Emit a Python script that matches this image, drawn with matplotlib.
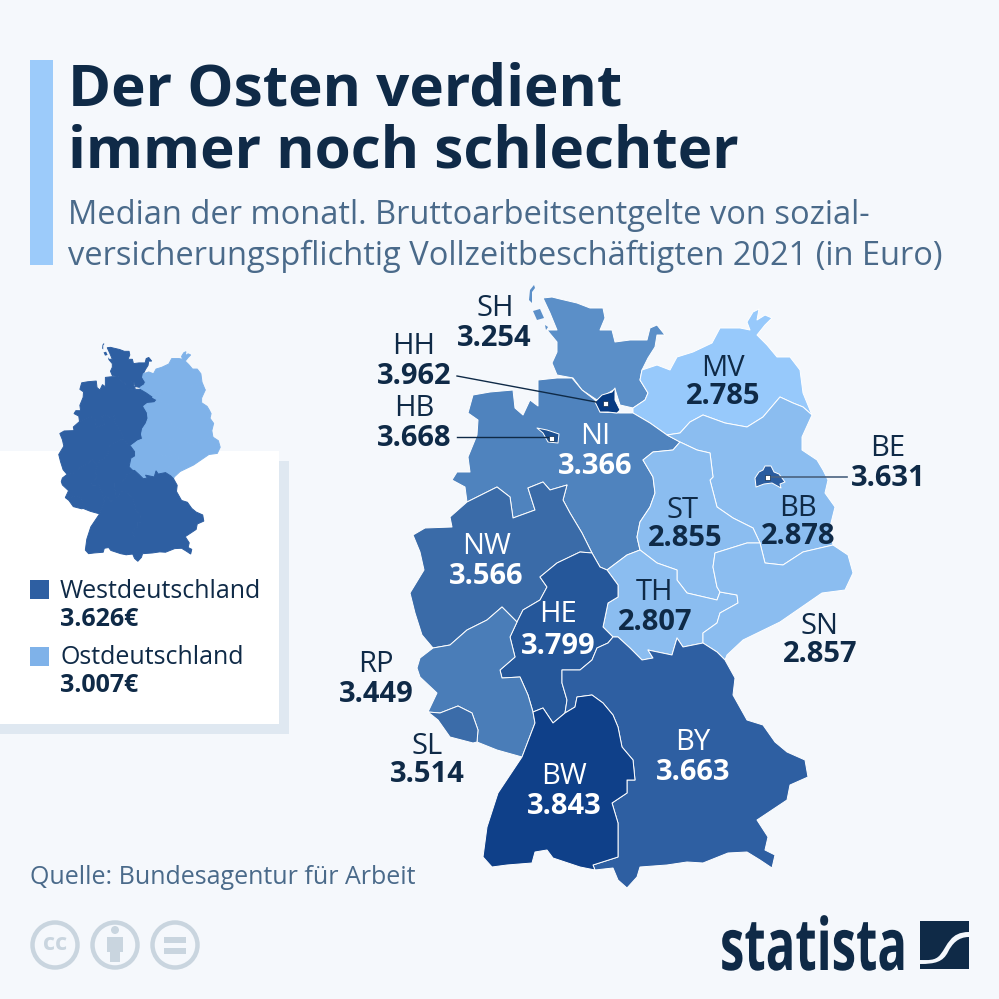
import matplotlib
matplotlib.use("Agg")
import matplotlib.pyplot as plt
from matplotlib.patches import Polygon, Rectangle, Circle, PathPatch
from matplotlib.path import Path
from matplotlib.patheffects import AbstractPathEffect
from matplotlib.transforms import Affine2D

plt.rcParams['font.family'] = ['Open Sans', 'DejaVu Sans']

# values per federal state
states = ['SH', 'MV', 'NI', 'BB', 'ST', 'NW', 'TH', 'HE', 'SN', 'RP', 'SL', 'BY', 'BW', 'HH', 'HB', 'BE']
wages = [3254, 2785, 3366, 2878, 2855, 3566, 2807, 3799, 2857, 3449, 3514, 3663, 3843, 3962, 3668, 3631]
regions = ['Westdeutschland', 'Ostdeutschland']
region_wages = [3626, 3007]
east_states = ['MV', 'BB', 'ST', 'TH', 'SN', 'BE']

# state outlines in pixels
outline = {
    'SH': [(543, 298), (552, 297), (560, 299), (577, 303), (590, 308), (603, 308), (605, 318), (600, 330), (612, 330), (615, 342),
           (630, 340), (647, 340), (650, 328), (657, 325), (665, 335), (657, 335), (655, 347), (648, 358), (642, 370), (640, 380),
           (648, 393), (645, 400), (633, 408), (620, 405), (615, 389), (597, 400), (582, 390), (573, 378), (557, 375), (552, 363),
           (557, 352), (557, 342), (547, 330), (557, 330), (550, 313)],
    'NI': [(473, 395), (490, 392), (513, 390), (515, 408), (523, 415), (530, 400), (538, 406), (538, 380), (557, 378), (572, 378),
           (582, 390), (595, 400), (600, 412), (620, 413), (633, 413), (650, 423), (667, 435), (680, 442), (673, 450), (653, 452),
           (643, 460), (653, 477), (655, 493), (650, 507), (640, 522), (637, 537), (640, 550), (627, 555), (607, 570), (600, 567),
           (592, 553), (582, 533), (570, 513), (563, 500), (567, 485), (550, 490), (543, 482), (528, 488), (535, 510), (513, 518),
           (510, 497), (497, 487), (467, 502), (465, 487), (452, 480), (457, 472), (470, 472), (468, 457), (477, 435), (478, 420),
           (468, 413)],
    'NW': [(467, 502), (450, 517), (452, 527), (425, 528), (413, 535), (420, 552), (424, 570), (410, 593), (415, 613), (422, 635),
           (433, 648), (450, 645), (467, 630), (487, 620), (502, 607), (517, 622), (523, 610), (540, 600), (547, 587), (540, 577),
           (557, 563), (580, 552), (592, 553), (582, 533), (570, 513), (563, 500), (567, 485), (550, 490), (543, 482), (528, 488),
           (535, 510), (513, 518), (510, 497), (497, 487)],
    'HE': [(592, 553), (600, 567), (607, 570), (618, 585), (618, 597), (608, 603), (603, 627), (613, 637), (608, 643), (597, 648),
           (592, 660), (580, 670), (562, 670), (562, 683), (567, 700), (565, 713), (553, 723), (543, 708), (533, 712), (528, 695),
           (520, 677), (502, 678), (500, 670), (515, 657), (510, 637), (517, 622), (523, 610), (540, 600), (547, 587), (540, 577),
           (557, 563), (580, 552)],
    'RP': [(420, 658), (433, 648), (450, 645), (467, 630), (487, 620), (502, 607), (517, 622), (510, 637), (515, 657), (500, 670),
           (502, 678), (520, 677), (528, 695), (533, 712), (535, 723), (522, 757), (497, 750), (477, 742), (478, 730), (472, 713),
           (458, 706), (440, 713), (428, 712), (437, 693), (420, 677), (417, 668)],
    'SL': [(428, 712), (440, 713), (458, 706), (472, 713), (478, 730), (477, 742), (473, 743), (450, 737), (438, 720)],
    'BW': [(535, 723), (533, 712), (543, 708), (553, 723), (565, 713), (575, 707), (577, 697), (592, 695), (603, 703), (613, 715),
           (618, 727), (622, 747), (633, 760), (635, 780), (627, 780), (627, 793), (612, 803), (618, 823), (618, 857), (593, 865),
           (595, 870), (580, 867), (553, 858), (547, 850), (535, 852), (532, 863), (507, 865), (492, 867), (483, 857), (487, 827),
           (498, 793), (522, 757)],
    'BY': [(613, 637), (618, 637), (630, 648), (642, 660), (653, 658), (648, 650), (672, 655), (677, 638), (683, 647), (703, 643),
           (717, 652), (725, 660), (735, 678), (733, 695), (747, 720), (763, 725), (775, 742), (787, 752), (805, 760), (808, 777),
           (790, 785), (787, 800), (757, 820), (768, 837), (765, 850), (775, 855), (772, 868), (760, 860), (747, 852), (728, 853),
           (703, 863), (687, 862), (667, 865), (640, 867), (637, 877), (627, 888), (618, 880), (613, 868), (595, 870), (593, 865),
           (618, 857), (618, 823), (612, 803), (627, 793), (627, 780), (635, 780), (633, 760), (622, 747), (618, 727), (613, 715),
           (603, 703), (592, 695), (577, 697), (575, 707), (565, 713), (567, 700), (562, 683), (562, 670), (580, 670), (592, 660),
           (597, 648), (608, 643)],
    'TH': [(607, 570), (627, 555), (640, 550), (657, 563), (677, 570), (677, 580), (687, 593), (717, 600), (720, 592), (737, 595),
           (738, 603), (720, 613), (717, 623), (703, 633), (703, 643), (683, 647), (677, 638), (672, 655), (648, 650), (653, 658),
           (642, 660), (630, 648), (618, 637), (613, 637), (603, 627), (608, 603), (618, 597), (618, 585)],
    'ST': [(643, 460), (653, 452), (673, 450), (680, 442), (697, 450), (710, 453), (713, 477), (710, 480), (717, 507), (733, 518),
           (753, 528), (760, 543), (747, 543), (715, 553), (713, 567), (717, 587), (720, 592), (717, 600), (687, 593), (677, 580),
           (677, 570), (657, 563), (640, 550), (637, 537), (640, 522), (650, 507), (655, 493), (653, 477)],
    'SN': [(715, 553), (747, 543), (760, 543), (765, 563), (783, 565), (803, 552), (833, 545), (848, 555), (853, 573), (845, 590),
           (822, 593), (780, 622), (743, 640), (727, 655), (725, 660), (717, 652), (703, 643), (703, 633), (717, 623), (720, 613),
           (738, 603), (737, 595), (720, 592), (717, 587), (713, 567)],
    'BB': [(667, 435), (680, 433), (690, 422), (703, 415), (725, 423), (747, 427), (763, 417), (780, 397), (793, 403), (803, 407),
           (812, 415), (802, 437), (802, 450), (817, 460), (823, 470), (828, 480), (825, 493), (835, 507), (830, 527), (833, 545),
           (803, 552), (783, 565), (765, 563), (760, 543), (753, 528), (733, 518), (717, 507), (710, 480), (713, 477), (710, 453),
           (697, 450), (680, 442)],
    'MV': [(633, 413), (633, 408), (645, 400), (648, 393), (640, 380), (642, 370), (657, 365), (670, 370), (677, 357), (693, 352),
           (712, 343), (720, 328), (740, 328), (750, 330), (747, 322), (753, 312), (759, 309), (757, 320), (765, 315), (772, 318),
           (765, 325), (757, 335), (767, 345), (777, 357), (790, 357), (800, 370), (803, 393), (812, 415), (803, 407), (793, 403),
           (780, 397), (763, 417), (747, 427), (725, 423), (703, 415), (690, 422), (680, 433), (667, 435), (650, 423)],
    'HH': [(595, 402), (602, 395), (612, 392), (615, 388), (615, 400), (620, 410), (617, 413), (608, 412), (600, 412)],
    'HB': [(537, 428), (547, 430), (559, 434), (558, 443), (548, 442), (543, 433)],
    'BE': [(755, 478), (759, 472), (763, 470), (765, 466), (771, 466), (774, 472), (779, 474), (785, 482), (780, 484), (781, 488),
           (772, 483), (764, 484), (756, 487)],
}
sh_islands = [[(529, 300), (530, 290), (534, 285), (535, 288), (532, 292), (532, 303)],
              [(533, 311), (540, 309), (544, 318), (537, 320)],
              [(545, 325), (548, 327), (546, 330)]]

colors = {'SH': '#5b8fc8', 'HH': '#063a82', 'HB': '#1c4f90', 'MV': '#97c9fb', 'NI': '#4f83be', 'BE': '#2a5c9f',
          'BB': '#8bbdf0', 'ST': '#8bbdf0', 'NW': '#3a6ba8', 'TH': '#8bbdf0', 'HE': '#25579a', 'SN': '#8bbdf0',
          'RP': '#4a7db8', 'SL': '#3b6ca9', 'BY': '#2e5fa2', 'BW': '#0f4089'}
region_colors = ['#2e5fa2', '#7fb2e9']

NAVY = '#0f2a47'
SLATE = '#4a6a8a'
BG = '#f5f8fc'
ICON = '#c9d5df'

# label centres: name, value
label_pos = {'SH': (495, 308, 494, 338), 'HH': (414, 347, 414, 377), 'HB': (414, 409, 414, 439), 'MV': (723, 369, 723, 397),
             'NI': (595, 436, 595, 467), 'BE': (888, 449, 888, 479), 'BB': (798, 509, 798, 537), 'ST': (683, 511, 685, 539),
             'NW': (487, 546, 486, 576), 'TH': (655, 593, 655, 623), 'HE': (558, 615, 558, 647), 'SN': (820, 627, 820, 655),
             'RP': (376, 665, 376, 694), 'SL': (427, 746, 427, 775), 'BY': (693, 743, 693, 773), 'BW': (564, 777, 564, 806)}
white_labels = ['NI', 'NW', 'HE', 'BY', 'BW']


class SqueezeX(AbstractPathEffect):
    # narrows a text horizontally around a centre, the logo font is condensed
    def __init__(self, cx, sx):
        super().__init__()
        self.cx = cx
        self.sx = sx

    def draw_path(self, renderer, gc, tpath, affine, rgbFace=None):
        squeeze = Affine2D().translate(-self.cx, 0).scale(self.sx, 1).translate(self.cx, 0)
        renderer.draw_path(gc, tpath, affine + squeeze, rgbFace)


def fmt(v):
    return f"{v:,}".replace(",", ".")


fig = plt.figure(figsize=(9.99, 9.99), dpi=100, facecolor=BG)
ax = fig.add_axes([0, 0, 1, 1])
ax.set_xlim(0, 999)
ax.set_ylim(999, 0)
ax.axis('off')

# header
ax.add_patch(Rectangle((30, 60), 23, 205, fc='#9ccbfa', ec='none'))
ax.text(68, 90, 'Der Osten verdient', fontsize=42, fontweight='bold', color=NAVY, va='center')
ax.text(68, 153, 'immer noch schlechter', fontsize=42, fontweight='bold', color=NAVY, va='center')
ax.text(68, 216, 'Median der monatl. Bruttoarbeitsentgelte von sozial-', fontsize=23.5, color=SLATE, va='center')
ax.text(68, 256, 'versicherungspflichtig Vollzeitbeschäftigten 2021 (in Euro)', fontsize=23.5, color=SLATE, va='center')

# legend panel with shadow
ax.add_patch(Rectangle((0, 461), 289, 273, fc='#dfe8f1', ec='none'))
ax.add_patch(Rectangle((0, 451), 279, 273, fc='white', ec='none'))

# small overview map, same outlines scaled down
to_small = Affine2D().translate(-408, -285).scale(0.3645, 0.362).translate(58, 343) + ax.transData
for st in states:
    c = region_colors[1] if st in east_states else region_colors[0]
    ax.add_patch(Polygon(outline[st], closed=True, fc=c, ec=c, lw=0.7, transform=to_small))
for isl in sh_islands:
    ax.add_patch(Polygon(isl, closed=True, fc=region_colors[0], ec='none', transform=to_small))

for i, (name, v) in enumerate(zip(regions, region_wages)):
    y = 580 + i * 67
    ax.add_patch(Rectangle((30, y), 19, 19, fc=region_colors[i], ec='none'))
    ax.text(60, y + 11, name, fontsize=18, color=NAVY, va='center')
    ax.text(60, y + 39, fmt(v) + '€', fontsize=18, fontweight='bold', color=NAVY, va='center')

# main map, enclaves come last in the list so they stay on top
for st in states:
    ax.add_patch(Polygon(outline[st], closed=True, fc=colors[st], ec='white', lw=0.7, joinstyle='round', zorder=2))
for isl in sh_islands:
    ax.add_patch(Polygon(isl, closed=True, fc=colors['SH'], ec='none', zorder=2))

# leader lines and city dots
ax.plot([457, 596], [376, 402], color=NAVY, lw=1, zorder=3)
ax.plot([457, 548], [437, 437], color=NAVY, lw=1, zorder=3)
ax.plot([770, 847], [477, 477], color='#4a6280', lw=1.2, zorder=3)
for x, y in [(605.5, 403), (551, 438), (767, 477)]:
    ax.add_patch(Rectangle((x - 2.5, y - 2.5), 5, 5, fc='white', ec=NAVY, lw=0.5, zorder=4))

for st, v in zip(states, wages):
    c = 'white' if st in white_labels else NAVY
    nx, ny, vx, vy = label_pos[st]
    ax.text(nx, ny, st, fontsize=21, color=c, ha='center', va='center', zorder=5)
    ax.text(vx, vy, fmt(v), fontsize=21, fontweight='bold', color=c, ha='center', va='center', zorder=5)

# footer
ax.text(30, 878, 'Quelle: Bundesagentur für Arbeit', fontsize=18, color=SLATE, va='center')
for cx in [55, 115, 175]:
    ax.add_patch(Circle((cx, 945), 22.5, fc='none', ec=ICON, lw=3.2))
ax.text(55, 944, 'cc', fontsize=17, fontweight='bold', color=ICON, ha='center', va='center')
ax.add_patch(Circle((115, 930), 4, fc=ICON, ec='none'))
ax.add_patch(Rectangle((107, 937), 16, 15, fc=ICON, ec='none'))
ax.add_patch(Rectangle((110, 952), 10, 10, fc=ICON, ec='none'))
ax.add_patch(Rectangle((164, 937), 22, 6, fc=ICON, ec='none'))
ax.add_patch(Rectangle((164, 948), 22, 6, fc=ICON, ec='none'))

ax.text(813.5, 970, 'statista', fontsize=52, fontweight='bold', color=NAVY, ha='center', va='baseline',
        path_effects=[SqueezeX(813.5, 0.68)])
upper = Path([(920, 921), (969, 921), (969, 932), (950, 932), (948, 945), (940, 955), (935, 961), (928, 960), (920, 960), (920, 921)],
             [Path.MOVETO, Path.LINETO, Path.LINETO, Path.CURVE4, Path.CURVE4, Path.CURVE4, Path.CURVE4, Path.CURVE4, Path.CURVE4, Path.CLOSEPOLY])
lower = Path([(969, 937), (969, 969), (920, 969), (920, 964), (935, 964), (943, 962), (948, 952), (952, 944), (958, 937), (969, 937)],
             [Path.MOVETO, Path.LINETO, Path.LINETO, Path.LINETO, Path.CURVE4, Path.CURVE4, Path.CURVE4, Path.CURVE4, Path.CURVE4, Path.CLOSEPOLY])
ax.add_patch(PathPatch(upper, fc=NAVY, ec='none'))
ax.add_patch(PathPatch(lower, fc=NAVY, ec='none'))

fig.savefig('out.png', dpi=100, facecolor=BG)
